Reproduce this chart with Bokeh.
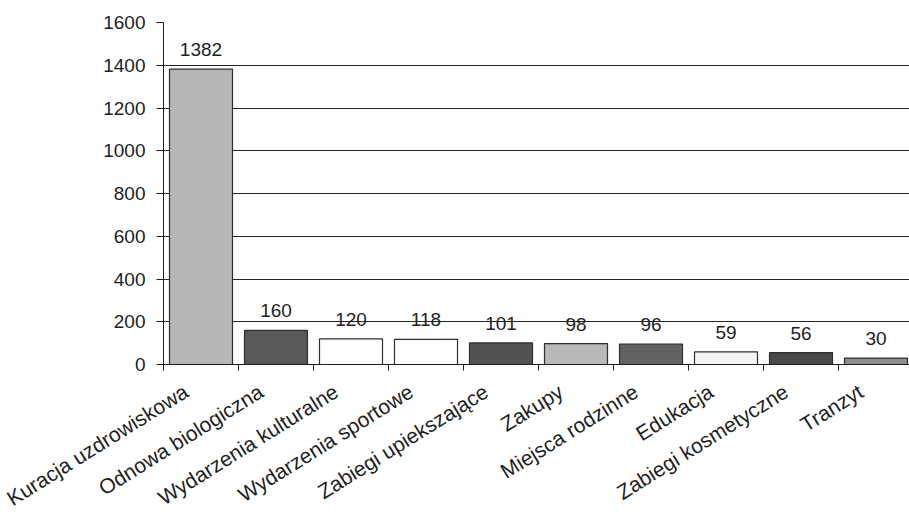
import math
from bokeh.plotting import figure
from bokeh.models import ColumnDataSource, Range1d, FixedTicker, LabelSet
from bokeh.core.properties import value
from bokeh.embed import file_html
from bokeh.resources import INLINE

# Motywy przyjazdów do uzdrowiska
categories = [
    "Kuracja uzdrowiskowa",
    "Odnowa biologiczna",
    "Wydarzenia kulturalne",
    "Wydarzenia sportowe",
    "Zabiegi upiekszające",
    "Zakupy",
    "Miejsca rodzinne",
    "Edukacja",
    "Zabiegi kosmetyczne",
    "Tranzyt",
]
values = [1382, 160, 120, 118, 101, 98, 96, 59, 56, 30]
bar_colors = ["#b6b6b6", "#585858", "#ffffff", "#ffffff", "#525252",
              "#b9b9b9", "#626262", "#f4f4f4", "#494949", "#8e8e8e"]
y_ticks = [0, 200, 400, 600, 800, 1000, 1200, 1400, 1600]

FONT = "Liberation Sans"
INK = "#1e1e1e"

centers = [i + 0.5 for i in range(len(categories))]
# slanted names end a little left of each bar's centre
label_pos = [round(c - 0.2, 2) for c in centers]
src = ColumnDataSource(dict(
    x=centers,
    top=values,
    color=bar_colors,
    label=[str(v) for v in values],
))

W, H = 909, 523
left, top, bottom = 163, 22, 159
frame_w = W - left
cat_px = 75.0

p = figure(
    width=W, height=H,
    output_backend="svg", toolbar_location=None,
    x_range=Range1d(0, frame_w / cat_px),
    y_range=Range1d(0, 1600),
    min_border_left=left, min_border_right=0,
    min_border_top=top, min_border_bottom=bottom,
)
p.outline_line_color = None
p.background_fill_color = "white"
p.border_fill_color = "white"

# horizontal grid lines (none at the top edge)
p.xgrid.visible = False
p.ygrid.ticker = FixedTicker(ticks=y_ticks[1:-1])
p.ygrid.grid_line_color = "#262626"
p.ygrid.grid_line_width = 1

p.vbar(x="x", top="top", bottom=0, width=0.84, source=src,
       fill_color="color", line_color="#2e2e2e", line_width=1.2)

labels = LabelSet(x="x", y="top", text="label", source=src,
                  text_align="center", text_baseline="bottom", y_offset=13,
                  text_font=value(FONT), text_font_size="19px", text_color=INK)
p.add_layout(labels)

# y axis
p.yaxis.ticker = FixedTicker(ticks=y_ticks)
p.yaxis.minor_tick_line_color = None
p.yaxis.major_tick_out = 7
p.yaxis.major_tick_in = 0
p.yaxis.major_label_standoff = 11
p.yaxis.axis_line_color = INK
p.yaxis.major_tick_line_color = INK
p.yaxis.major_label_text_font = FONT
p.yaxis.major_label_text_font_size = "19px"
p.yaxis.major_label_text_color = INK

# x axis: slanted names, tick marks at category boundaries
p.xaxis.ticker = FixedTicker(ticks=label_pos,
                             minor_ticks=list(range(len(categories) + 1)))
p.xaxis.major_label_overrides = {pos: name for pos, name in zip(label_pos, categories)}
p.xaxis.major_tick_out = 0
p.xaxis.major_tick_in = 0
p.xaxis.minor_tick_out = 6
p.xaxis.minor_tick_in = 0
p.xaxis.minor_tick_line_color = INK
p.xaxis.axis_line_color = INK
p.xaxis.major_label_orientation = math.radians(32)
p.xaxis.major_label_standoff = 19
p.xaxis.major_label_text_font = FONT
p.xaxis.major_label_text_font_size = "21px"
p.xaxis.major_label_text_color = INK

open("out.html", "w").write(file_html(p, INLINE))
